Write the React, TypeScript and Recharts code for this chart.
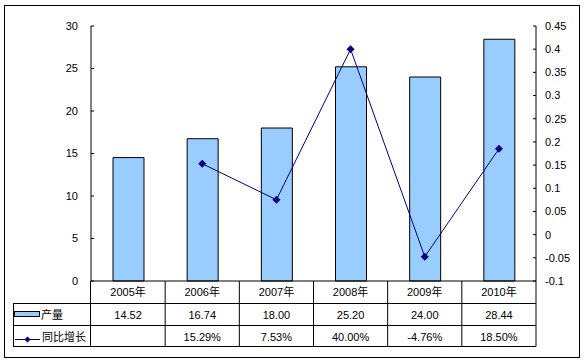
import React from 'react';
import { ComposedChart, Bar, Line, XAxis, YAxis } from 'recharts';

const years = ['2005年', '2006年', '2007年', '2008年', '2009年', '2010年'];
const output = [14.52, 16.74, 18.0, 25.2, 24.0, 28.44];
const growth: (number | null)[] = [null, 0.1529, 0.0753, 0.4, -0.0476, 0.185];
const leftTicks = [0, 5, 10, 15, 20, 25, 30];
const rightTicks = [-0.1, -0.05, 0, 0.05, 0.1, 0.15, 0.2, 0.25, 0.3, 0.35, 0.4, 0.45];

const data = years.map((year, i) => ({ year, output: output[i], growth: growth[i] }));

const FONT = 'Arial, "Liberation Sans", "Noto Sans CJK SC", sans-serif';
const W = 585;
const H = 363;
const PLOT_LEFT = 91;
const PLOT_RIGHT = 536;
const PLOT_TOP = 26;
const PLOT_BOTTOM = 281;
const TABLE_LEFT = 13;
const ROW1 = 303.5;
const ROW2 = 325.5;
const ROW3 = 346.5;
const CELL_W = (PLOT_RIGHT - PLOT_LEFT) / years.length;

const fmtPct = (v: number) => `${(v * 100).toFixed(2)}%`;

function TableTick(props: any) {
  const { x, index, payload } = props;
  const i = index as number;
  const g = growth[i];
  const txt = { fontFamily: FONT, fontSize: 11, fill: '#000', textAnchor: 'middle' as const, dominantBaseline: 'central' as const };
  return (
    <g>
      {i === 0 && (
        <g stroke="#000" strokeWidth={1} fill="none">
          <line x1={TABLE_LEFT} x2={PLOT_RIGHT} y1={ROW1} y2={ROW1} />
          <line x1={TABLE_LEFT} x2={PLOT_RIGHT} y1={ROW2} y2={ROW2} />
          <line x1={TABLE_LEFT} x2={PLOT_RIGHT} y1={ROW3} y2={ROW3} />
          <line x1={TABLE_LEFT + 0.5} x2={TABLE_LEFT + 0.5} y1={ROW1} y2={ROW3} />
          <line x1={PLOT_LEFT - 0.5} x2={PLOT_LEFT - 0.5} y1={PLOT_BOTTOM} y2={ROW3} />
          <rect x={14.5} y={311.5} width={25} height={5} fill="#99CCFF" />
          <line x1={15} x2={40} y1={339.5} y2={339.5} stroke="#000080" />
          <path d="M27.5,336.5 L30.5,339.5 L27.5,342.5 L24.5,339.5 Z" fill="#000080" stroke="none" />
          <text x={41} y={315} {...txt} textAnchor="start" stroke="none">产量</text>
          <text x={42} y={337} {...txt} textAnchor="start" stroke="none">同比增长</text>
        </g>
      )}
      <line x1={x + CELL_W / 2} x2={x + CELL_W / 2} y1={PLOT_BOTTOM} y2={ROW3} stroke="#000" strokeWidth={1} />
      <text x={x} y={292} {...txt}>{payload.value}</text>
      <text x={x} y={315} {...txt}>{output[i].toFixed(2)}</text>
      {g !== null && <text x={x} y={336.5} {...txt}>{fmtPct(g)}</text>}
    </g>
  );
}

function Diamond(props: any) {
  const { cx, cy, index } = props;
  if (cx == null || cy == null) return <g key={`d-${index}`} />;
  return (
    <path
      key={`d-${index}`}
      d={`M${cx},${cy - 4} L${cx + 4},${cy} L${cx},${cy + 4} L${cx - 4},${cy} Z`}
      fill="#000080"
    />
  );
}

export default function App() {
  return (
    <div style={{ position: 'absolute', left: 0, top: 0, width: W, height: H, background: '#fff' }}>
      <div
        style={{
          position: 'absolute',
          left: 4,
          top: 5,
          width: 574,
          height: 351,
          border: '1px solid #000',
        }}
      />
      <div style={{ position: 'absolute', left: 0, top: 0 }}>
        <ComposedChart
          width={W}
          height={H}
          data={data}
          margin={{ top: PLOT_TOP, right: 0, bottom: H - PLOT_BOTTOM - 65, left: 0 }}
          barCategoryGap={0}
        >
          <XAxis
            dataKey="year"
            xAxisId={0}
            height={65}
            interval={0}
            axisLine={{ stroke: '#000' }}
            tickLine={false}
            tick={(p: any) => <TableTick {...p} />}
          />
          <YAxis
            yAxisId="left"
            orientation="left"
            width={PLOT_LEFT}
            domain={[0, 30]}
            ticks={leftTicks}
            interval={0}
            axisLine={{ stroke: '#000' }}
            tickLine={{ stroke: '#000' }}
            tickSize={-3}
            tickMargin={16}
            tick={{ fontFamily: FONT, fontSize: 11, fill: '#000' }}
          />
          <YAxis
            yAxisId="right"
            orientation="right"
            width={W - PLOT_RIGHT}
            domain={[-0.1, 0.45]}
            ticks={rightTicks}
            interval={0}
            axisLine={{ stroke: '#000' }}
            tickLine={{ stroke: '#000' }}
            tickSize={-3}
            tickMargin={12}
            tickFormatter={(v: number) => String(v)}
            tick={{ fontFamily: FONT, fontSize: 11, fill: '#000', textAnchor: 'start' }}
          />
          <Bar
            yAxisId="left"
            dataKey="output"
            fill="#99CCFF"
            stroke="#000"
            strokeWidth={1}
            barSize={31}
            isAnimationActive={false}
          />
          <Line
            yAxisId="right"
            dataKey="growth"
            stroke="#000080"
            strokeWidth={1}
            dot={(p: any) => <Diamond {...p} />}
            activeDot={false}
            connectNulls={false}
            isAnimationActive={false}
          />
        </ComposedChart>
      </div>
    </div>
  );
}
